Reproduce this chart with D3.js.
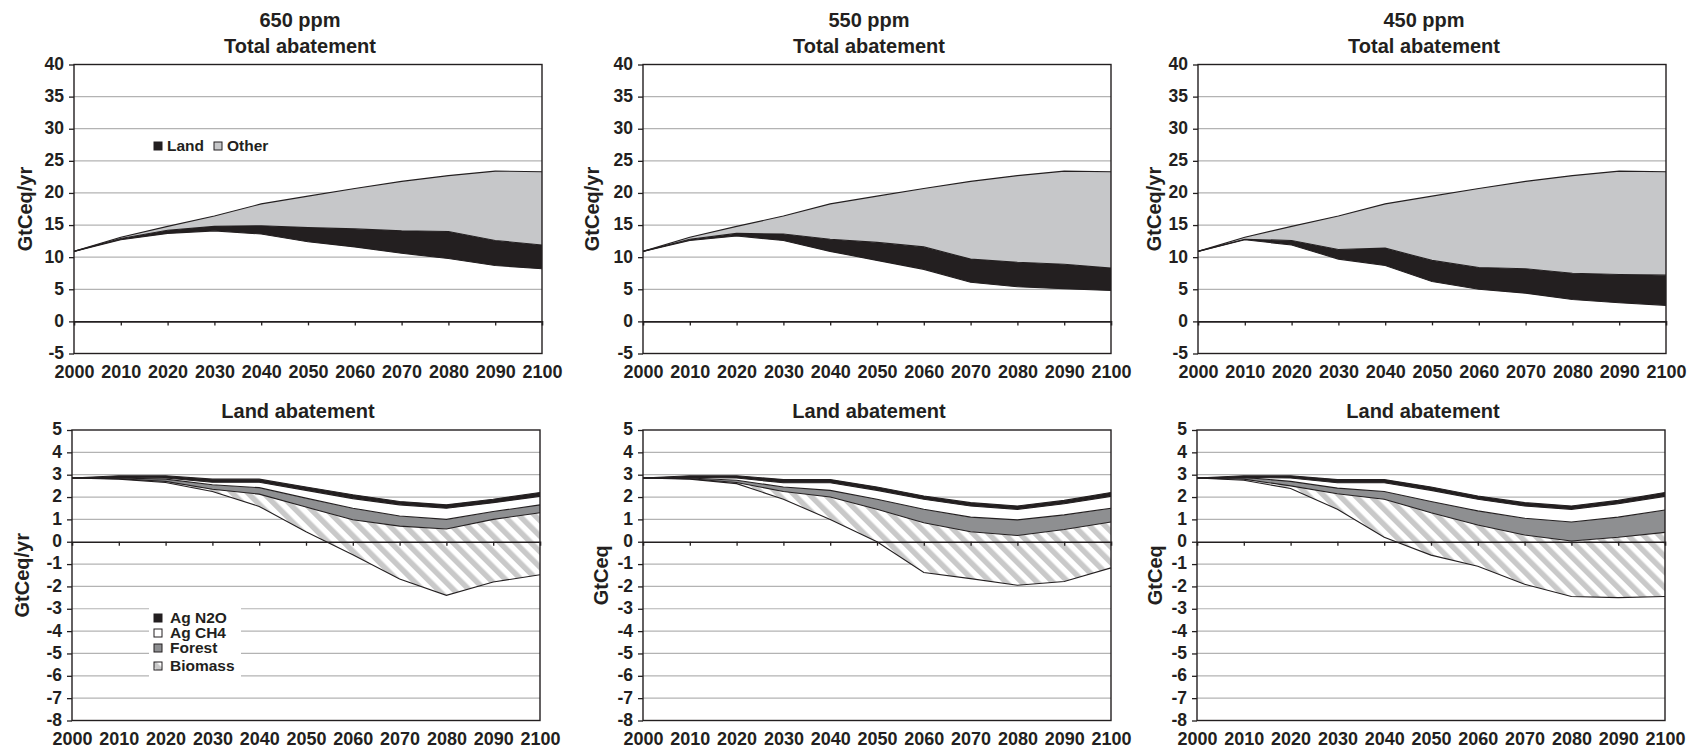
<!DOCTYPE html>
<html><head><meta charset="utf-8">
<script src="https://cdn.jsdelivr.net/npm/d3@7"></script>
<style>
body{margin:0;background:#fff}
text{font-family:"Liberation Sans",Arial,Helvetica,sans-serif;font-weight:bold;fill:#231f20}
</style>
</head><body>
<svg id="chart" width="1695" height="749"></svg>
<script>
// ---------- data ----------
const years = [2000,2010,2020,2030,2040,2050,2060,2070,2080,2090,2100];
const topTicks = [-5,0,5,10,15,20,25,30,35,40];
const bottomTicks = [-8,-7,-6,-5,-4,-3,-2,-1,0,1,2,3,4,5];
const scenarios = ["650 ppm","550 ppm","450 ppm"];
const topTitle = "Total abatement";
const bottomTitle = "Land abatement";
const topYLabels = ["GtCeq/yr","GtCeq/yr","GtCeq/yr"];
const bottomYLabels = ["GtCeq/yr","GtCeq","GtCeq"];
const totalKeys = ["Remaining","Land","Other"];
const landKeys = ["Remaining","Biomass","Forest","Ag CH4","Ag N2O"];

// Total abatement (GtCeq/yr): remaining emissions, land abatement, other abatement
const remaining650 = [10.9,12.7,13.7,14.1,13.6,12.4,11.6,10.6,9.8,8.7,8.2];
const land650      = [0,0.2,0.5,0.7,1.3,2.2,2.8,3.5,4.2,3.9,3.7];
const other650     = [0,0.2,0.6,1.6,3.4,4.9,6.3,7.7,8.7,10.8,11.4];
const remaining550 = [10.9,12.6,13.3,12.6,10.9,9.5,8.1,6.1,5.4,5.1,4.8];
const land550      = [0,0.2,0.4,1.0,1.9,2.8,3.5,3.6,3.8,3.8,3.5];
const other550     = [0,0.3,1.1,2.8,5.5,7.2,9.1,12.1,13.5,14.5,15.0];
const remaining450 = [10.9,12.7,11.9,9.7,8.7,6.2,5.0,4.4,3.4,2.9,2.5];
const land450      = [0,0.1,0.7,1.5,2.7,3.3,3.4,3.8,4.1,4.4,4.7];
const other450     = [0,0.3,2.2,5.2,6.9,10.0,12.3,13.6,15.2,16.1,16.1];

// Land abatement: remaining land emissions, biomass, forest, Ag CH4, Ag N2O
const landRem650 = [2.85,2.8,2.65,2.25,1.58,0.45,-0.58,-1.67,-2.4,-1.8,-1.48];
const biomass650 = [0,0.02,0.05,0.1,0.55,1.1,1.56,2.37,2.97,2.8,2.78];
const forest650  = [0,0.03,0.1,0.2,0.29,0.4,0.52,0.45,0.43,0.35,0.35];
const ch4_650    = [0,0.03,0.05,0.11,0.24,0.35,0.43,0.5,0.5,0.4,0.38];
const n2o650     = [0,0.07,0.1,0.14,0.14,0.15,0.17,0.15,0.15,0.15,0.17];
const landRem550 = [2.85,2.8,2.6,1.9,1.0,0.0,-1.38,-1.65,-1.95,-1.78,-1.17];
const biomass550 = [0,0.02,0.05,0.35,1.0,1.45,2.23,2.1,2.23,2.33,2.05];
const forest550  = [0,0.03,0.1,0.2,0.3,0.45,0.6,0.65,0.7,0.65,0.62];
const ch4_550    = [0,0.03,0.1,0.19,0.34,0.4,0.45,0.5,0.47,0.5,0.53];
const n2o550     = [0,0.07,0.1,0.14,0.14,0.15,0.15,0.15,0.15,0.15,0.17];
const landRem450 = [2.85,2.75,2.38,1.45,0.2,-0.6,-1.1,-1.9,-2.45,-2.5,-2.45];
const biomass450 = [0,0.05,0.12,0.7,1.7,1.9,1.85,2.2,2.48,2.7,2.87];
const forest450  = [0,0.08,0.2,0.25,0.35,0.5,0.63,0.75,0.85,0.9,1.0];
const ch4_450    = [0,0,0.15,0.24,0.39,0.5,0.52,0.55,0.57,0.6,0.61];
const n2o450     = [0,0.07,0.1,0.14,0.14,0.15,0.15,0.15,0.15,0.15,0.17];

const topSeries = [
  [remaining650,land650,other650],
  [remaining550,land550,other550],
  [remaining450,land450,other450]
];
const bottomSeries = [
  [landRem650,biomass650,forest650,ch4_650,n2o650],
  [landRem550,biomass550,forest550,ch4_550,n2o550],
  [landRem450,biomass450,forest450,ch4_450,n2o450]
];

// ---------- layout ----------
const W = 468;
const topLefts = [74,643,1198];
const bottomLefts = [72,643,1197];
const topBox = [64.5,353.5];
const bottomBox = [430,720.5];
const yLabelOffsetTop = [49,51,44];
const yLabelOffsetBottom = [50,42,42];

const ink = "#231f20";
const svg = d3.select("#chart");
svg.append("rect").attr("width",1695).attr("height",749).attr("fill","#fff");

const defs = svg.append("defs");
const pat = defs.append("pattern").attr("id","hatch").attr("patternUnits","userSpaceOnUse")
  .attr("width",11).attr("height",11).attr("patternTransform","rotate(-45)");
pat.append("rect").attr("width",11).attr("height",11).attr("fill","#fff");
pat.append("rect").attr("x",0).attr("width",5.5).attr("height",11).attr("fill","#c9c9c9");

const topColors = {"Remaining":"none","Land":ink,"Other":"#c6c7c9"};
const landColors = {"Remaining":"none","Biomass":"url(#hatch)","Forest":"#8e8f91","Ag CH4":"#fff","Ag N2O":ink};
const fmt = d => String(d);

function drawPanel(left, box, ticks, domain, keys, arrays, colors, yLabel, yLabOff, titles, titleBaselines){
  const x = d3.scaleLinear().domain([2000,2100]).range([left,left+W]);
  const y = d3.scaleLinear().domain(domain).range([box[1],box[0]]);
  const g = svg.append("g");
  // gridlines
  g.append("g").selectAll("line").data(ticks.filter(t=>t!==domain[0]&&t!==domain[1]&&t!==0)).join("line")
    .attr("x1",left).attr("x2",left+W).attr("y1",d=>y(d)).attr("y2",d=>y(d))
    .attr("stroke","#b3b3b3").attr("stroke-width",1.2);
  // stacked areas
  const rows = years.map((yr,i)=>{const r={year:yr}; keys.forEach((k,j)=>r[k]=arrays[j][i]); return r;});
  const stacked = d3.stack().keys(keys)(rows);
  const area = d3.area().x(d=>x(d.data.year)).y0(d=>y(d[0])).y1(d=>y(d[1]));
  const topLine = d3.line().x(d=>x(d.data.year)).y(d=>y(d[1]));
  g.append("g").selectAll("path").data(stacked.filter(s=>colors[s.key]!=="none")).join("path")
    .attr("d",area).attr("fill",s=>colors[s.key]);
  g.append("g").selectAll("path").data(stacked).join("path")
    .attr("d",topLine).attr("fill","none").attr("stroke",ink).attr("stroke-width",1.1);
  // frame
  g.append("rect").attr("x",left).attr("y",box[0]).attr("width",W).attr("height",box[1]-box[0])
    .attr("fill","none").attr("stroke",ink).attr("stroke-width",1.4);
  // y axis
  const ya = d3.axisLeft(y).tickValues(ticks).tickSize(5).tickPadding(5).tickFormat(fmt);
  const yg = g.append("g").attr("transform",`translate(${left},0)`).call(ya);
  yg.select(".domain").remove();
  yg.selectAll("line").attr("stroke",ink).attr("stroke-width",1.3);
  yg.selectAll("text").attr("font-size",17.5).attr("dy","0.28em").attr("font-family",null).attr("fill",ink);
  // zero axis with ticks
  const xa = d3.axisBottom(x).tickValues(years.slice(1,-1)).tickSize(4).tickFormat("");
  const xg = g.append("g").attr("transform",`translate(0,${y(0)})`).call(xa);
  xg.select(".domain").attr("stroke",ink).attr("stroke-width",1.6);
  xg.selectAll("line").attr("stroke",ink).attr("stroke-width",1.3);
  // bottom labels
  const xb = d3.axisBottom(x).tickValues(years).tickSize(0).tickPadding(12).tickFormat(fmt);
  const xbg = g.append("g").attr("transform",`translate(0,${box[1]})`).call(xb);
  xbg.select(".domain").remove();
  xbg.selectAll("text").attr("font-size",18).attr("font-family",null).attr("fill",ink);
  // y label
  g.append("text").attr("transform",`translate(${left-yLabOff},${(box[0]+box[1])/2}) rotate(-90)`)
    .attr("text-anchor","middle").attr("dominant-baseline","central").attr("font-size",20).text(yLabel);
  // titles
  titles.forEach((t,i)=>{
    g.append("text").attr("x",left+W/2-8).attr("y",titleBaselines[i]).attr("text-anchor","middle")
      .attr("font-size",20).text(t);
  });
}

scenarios.forEach((s,i)=>{
  drawPanel(topLefts[i], topBox, topTicks, [-5,40], totalKeys, topSeries[i], topColors,
    topYLabels[i], yLabelOffsetTop[i], [s, topTitle], [27, 52.5]);
  drawPanel(bottomLefts[i], bottomBox, bottomTicks, [-8,5], landKeys, bottomSeries[i], landColors,
    bottomYLabels[i], yLabelOffsetBottom[i], [bottomTitle], [418]);
});

// legend top-left
const lt = svg.append("g");
const topLegend = [{label:"Land",fill:ink},{label:"Other",fill:"#c6c7c9"}];
const ltX = [154,214];
topLegend.forEach((d,i)=>{
  lt.append("rect").attr("x",ltX[i]).attr("y",142).attr("width",8).attr("height",8)
    .attr("fill",d.fill).attr("stroke",ink).attr("stroke-width",1);
  lt.append("text").attr("x",ltX[i]+13).attr("y",151).attr("font-size",15.5).text(d.label);
});

// legend bottom-left
const lb = svg.append("g");
lb.append("rect").attr("x",149).attr("y",606).attr("width",92).attr("height",72).attr("fill","#fff");
const bottomLegend = [
  {label:"Ag N2O",fill:ink},
  {label:"Ag CH4",fill:"#fff"},
  {label:"Forest",fill:"#8e8f91"},
  {label:"Biomass",fill:"url(#hatch)"}
];
const lbY = [618,633,648,666];
bottomLegend.forEach((d,i)=>{
  lb.append("rect").attr("x",154).attr("y",lbY[i]-4).attr("width",8).attr("height",8)
    .attr("fill",d.fill).attr("stroke",ink).attr("stroke-width",1);
  lb.append("text").attr("x",170).attr("y",lbY[i]+5).attr("font-size",15.5).text(d.label);
});
</script>
</body></html>
